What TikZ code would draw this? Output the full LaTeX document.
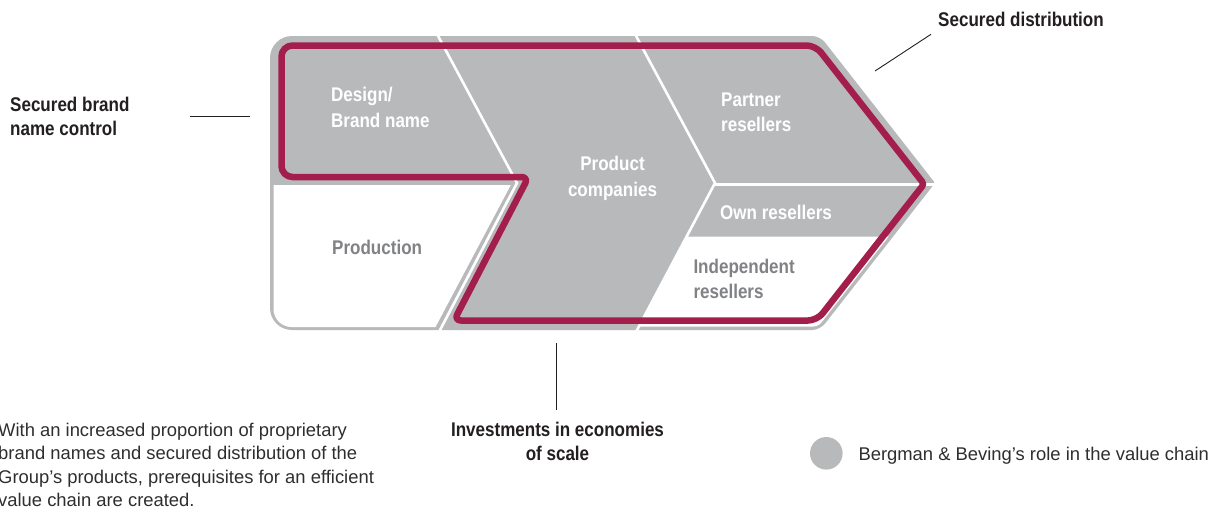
\documentclass[tikz,border=0pt]{standalone}
\usepackage{fontspec}
\setmainfont{Liberation Sans}
\newfontfamily\lblfont[FakeStretch=0.86]{Liberation Sans Bold}
\definecolor{vcgrey}{HTML}{B8B9BB}
\definecolor{vcred}{HTML}{A31E4B}
\definecolor{vctext}{HTML}{808285}
\definecolor{vcdark}{HTML}{231F20}
\definecolor{vcbody}{HTML}{2E2E2E}
\begin{document}
\begin{tikzpicture}[x=1pt,y=-1pt,
  lbl/.style={inner sep=0pt, anchor=base west, font=\lblfont\fontsize{19.8pt}{24pt}\selectfont},
  lblc/.style={lbl, anchor=base},
  inwhite/.style={text=white},
  ingrey/.style={text=vctext},
  outer/.style={text=vcdark},
  body/.style={inner sep=0pt, anchor=base west, text=vcbody, font=\fontsize{18.4pt}{23pt}\selectfont},
  sep/.style={draw=white, line width=2.6pt},
  redline/.style={draw=vcred, line width=6.5pt, line join=round},
  leader/.style={draw=vcdark, line width=0.9pt}]
\useasboundingbox (0,0) rectangle (1220,514);
% outer grey shape
\fill[vcgrey] (500,36) [rounded corners=8] -- (820,36) [rounded corners=2] -- (935,183) [rounded corners=8] -- (820,330) [rounded corners=22] -- (270,330) -- (270,36) -- cycle;
% white panels
\fill[white] (273.5,185) -- (510.8,185) -- (435.5,327) [rounded corners=18] -- (273.5,327) [sharp corners] -- (273.5,185) -- cycle;
\fill[white] (686.2,236.5) -- (888.7,236.5) [rounded corners=5] -- (818.3,326.5) [sharp corners] -- (637.9,326.5) -- cycle;
% white separators
\draw[sep] (437,34) -- (517,183) -- (439,332);
\draw[sep] (635,34) -- (715,183) -- (636,332);
\draw[sep] (715,184.5) -- (940,184.5);
% red outline
\draw[redline] (500,45.5) [rounded corners=9] -- (815.5,45.5) [rounded corners=3] -- (924,184) [rounded corners=9] -- (817,320.5) [rounded corners=7] -- (454,320.5) -- (528.5,177) [rounded corners=11] -- (281.5,177) -- (281.5,45.5) -- cycle;
% labels in the chain
\node[lbl, inwhite] (design) at (331,101.7) {Design/};
\node[lbl, inwhite] (brand) at (331,127.7) {Brand name};
\node[lbl, ingrey] (prod) at (332,254) {Production};
\node[lblc, inwhite] (pc1) at (612.5,170.7) {Product};
\node[lblc, inwhite] (pc2) at (612.5,196.3) {companies};
\node[lbl, inwhite] (par1) at (721,106.7) {Partner};
\node[lbl, inwhite] (par2) at (721,131) {resellers};
\node[lbl, inwhite] (own) at (720,219.3) {Own resellers};
\node[lbl, ingrey] (ind1) at (693.3,273.3) {Independent};
\node[lbl, ingrey] (ind2) at (693.3,298.3) {resellers};
% outer labels
\node[lbl, outer] (sbn1) at (10,111.7) {Secured brand};
\node[lbl, outer] (sbn2) at (10,135) {name control};
\node[lbl, outer] (sd) at (938,26) {Secured distribution};
\node[lblc, outer] (inv1) at (557.5,436.7) {Investments in economies};
\node[lblc, outer] (inv2) at (557.5,460) {of scale};
% leader lines
\coordinate (l1a) at (190,116);
\coordinate (l1b) at (250,116);
\coordinate (l2a) at (875,71);
\coordinate (l2b) at (931,34.3);
\coordinate (l3a) at (556.7,343);
\coordinate (l3b) at (556.7,410);
\draw[leader] (l1a) -- (l1b);
\draw[leader] (l2a) -- (l2b);
\draw[leader] (l3a) -- (l3b);
% body text
\node[body] (b1) at (-2,436) {With an increased proportion of proprietary};
\node[body] (b2) at (-2,459.6) {brand names and secured distribution of the};
\node[body] (b3) at (-2,483.2) {Group’s products, prerequisites for an efficient};
\node[body] (b4) at (-2,506.7) {value chain are created.};
% legend
\node[circle, fill=vcgrey, minimum size=32.6pt, inner sep=0pt] (leg) at (826.3,453.3) {};
\node[body] (legtext) at (858.3,460.7) {Bergman \& Beving’s role in the value chain};
\end{tikzpicture}
\end{document}
